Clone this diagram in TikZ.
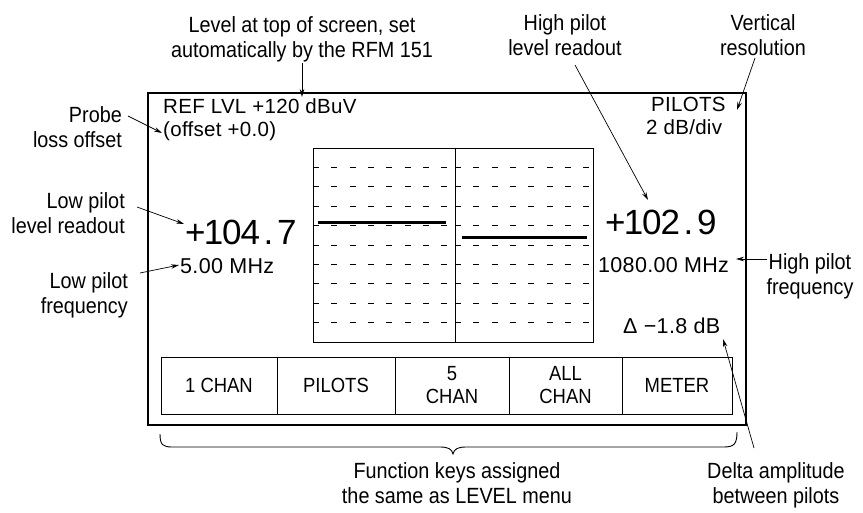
\documentclass[tikz,border=0pt]{standalone}
\usepackage{fontspec}
\setmainfont{Liberation Sans}
\newfontfamily\scrfont[LetterSpace=1.5]{Liberation Sans}
\newfontfamily\lblfont[FakeStretch=0.9]{Liberation Sans}
\usetikzlibrary{arrows.meta}
\newcommand\rdg[1]{\makebox[18.3pt][c]{#1}}
\begin{document}
\begin{tikzpicture}[x=1pt,y=-1pt,
  lbl/.style={font=\lblfont\fontsize{22}{25}\selectfont, inner sep=0pt, align=center},
  scr/.style={font=\scrfont\fontsize{21.5}{21.5}\selectfont, inner sep=0pt},
  scrtop/.style={font=\scrfont\fontsize{20.5}{20.5}\selectfont, inner sep=0pt},
  big/.style={font=\fontsize{35}{35}\selectfont, inner sep=0pt},
  keybox/.style={draw, line width=0.8pt, minimum height=57pt, inner sep=0pt, font=\lblfont\fontsize{20.5}{23}\selectfont, align=center},
  arr/.style={-{Stealth[length=8pt,width=4.5pt]}, line width=0.7pt},
  trace/.style={line width=3pt},
  gridln/.style={line width=0.9pt, dash pattern=on 6pt off 12.3pt}]
\fill[white] (0,0) rectangle (863,513);
\useasboundingbox (0,0) rectangle (863,513);

% screen
\draw[line width=1.4pt] (148,93) rectangle (746,425);
% graticule
\draw[line width=0.9pt] (313,148) rectangle (593,342);
\draw[line width=0.9pt] (455,148) -- (455,342);
\foreach \k in {1,...,9}{
  \draw[gridln] (313,148+\k*19.4) -- (455,148+\k*19.4);
  \draw[gridln] (455,148+\k*19.4) -- (593,148+\k*19.4);
}
\draw[trace] (318,223) -- (446,223);
\draw[trace] (462,238) -- (587,238);

% screen texts
\node[scrtop, anchor=base west] (ref) at (163,114) {REF LVL +120 dBuV};
\node[scrtop, anchor=base west] (off) at (163,137) {(offset +0.0)};
\node[scrtop, anchor=base west] (pil) at (651,112) {PILOTS};
\node[scrtop, anchor=base west] (div) at (646,135) {2 dB/div};
\node[big, anchor=base west] (lo) at (186,245) {\rdg{+}\rdg{1}\rdg{0}\rdg{4}\rdg{.}\rdg{7}};
\node[big, anchor=base west] (hi) at (606,235) {\rdg{+}\rdg{1}\rdg{0}\rdg{2}\rdg{.}\rdg{9}};
\node[scr, anchor=base west] (lof) at (180,274) {5.00 MHz};
\node[scr, anchor=base west] (hif) at (598,273) {1080.00 MHz};
\node[scr, anchor=base west] (dlt) at (623,334) {Δ −1.8 dB};

% function keys
\node[keybox, minimum width=116pt] (k1) at (219,385.5) {1 CHAN};
\node[keybox, minimum width=118pt] (k2) at (336,385.5) {PILOTS};
\node[keybox, minimum width=114pt] (k3) at (452,385.5) {5\\CHAN};
\node[keybox, minimum width=113pt] (k4) at (565.5,385.5) {ALL\\CHAN};
\node[keybox, minimum width=110pt] (k5) at (677,385.5) {METER};

% brace
\draw[line width=0.9pt] (160,434) .. controls (160,445) and (163,447) .. (172,447) -- (440,447)
  .. controls (448,447) and (452,449) .. (453,454)
  .. controls (454,449) and (458,447) .. (466,447) -- (724,447)
  .. controls (734,447) and (737,444) .. (737,432);

% labels
\node[lbl, anchor=north] (lvl) at (302,16.2) {Level at top of screen, set\\automatically by the RFM 151};
\node[lbl, anchor=north] (hpl) at (565,14.2) {High pilot\\level readout};
\node[lbl, anchor=north] (vres) at (763,14.2) {Vertical\\resolution};
\node[lbl, align=right, anchor=north east] (probe) at (122,106.2) {Probe\\loss offset};
\node[lbl, align=right, anchor=north east] (lpl) at (125,192.2) {Low pilot\\level readout};
\node[lbl, align=right, anchor=north east] (lpf) at (128,272.2) {Low pilot\\frequency};
\node[lbl, anchor=north] (hpf) at (810,253.2) {High pilot\\frequency};
\node[lbl, anchor=north] (fk) at (457,462.2) {Function keys assigned\\the same as LEVEL menu};
\node[lbl, anchor=north] (da) at (776,462.2) {Delta amplitude\\between pilots};

% arrow ends
\coordinate (lvlA) at (302,63);   \coordinate (lvlB) at (302,97);
\coordinate (hplA) at (575,65);   \coordinate (hplB) at (648,200);
\coordinate (vresA) at (755,58);  \coordinate (vresB) at (737,110);
\coordinate (probeA) at (128,116); \coordinate (probeB) at (162,133);
\coordinate (lplA) at (137,207);  \coordinate (lplB) at (184,224);
\coordinate (lpfA) at (140,273);  \coordinate (lpfB) at (179,265);
\coordinate (hpfA) at (767,259);  \coordinate (hpfB) at (736,259);
\coordinate (daA) at (754,448);   \coordinate (daB) at (723,339);

\draw[arr] (lvlA) -- (lvlB);
\draw[arr] (hplA) -- (hplB);
\draw[arr] (vresA) -- (vresB);
\draw[arr] (probeA) -- (probeB);
\draw[arr] (lplA) -- (lplB);
\draw[arr] (lpfA) -- (lpfB);
\draw[arr] (hpfA) -- (hpfB);
\draw[arr] (daA) -- (daB);
\end{tikzpicture}
\end{document}
